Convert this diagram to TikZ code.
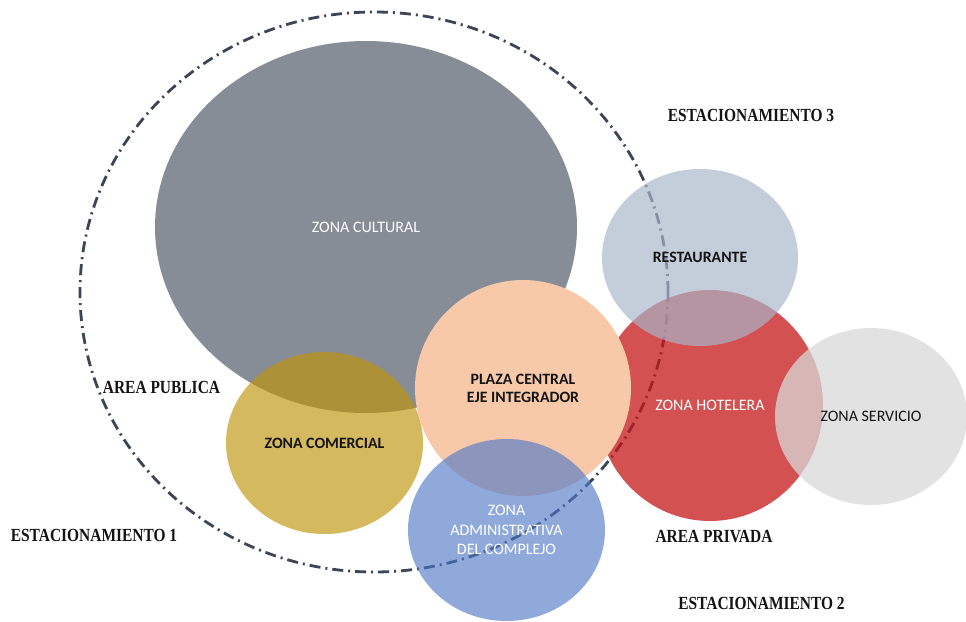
\documentclass[tikz,border=0pt]{standalone}
\usepackage{fontspec}
\setmainfont{Liberation Serif}
\newfontfamily\carlito{Carlito}
\usetikzlibrary{shapes.geometric}
\definecolor{navy}{RGB}{59,69,86}
\definecolor{cgray}{RGB}{135,141,150}
\definecolor{cgold}{RGB}{192,148,8}
\definecolor{cred}{RGB}{197,24,24}
\definecolor{cpeach}{RGB}{247,201,169}
\definecolor{cblue}{RGB}{78,119,198}
\definecolor{crest}{RGB}{169,182,201}
\definecolor{cserv}{RGB}{217,217,217}
\definecolor{ink}{RGB}{20,20,20}
\tikzset{
  zone/.style={ellipse, inner sep=0pt, draw=none, text opacity=1, align=center},
  sanslab/.style={font=\carlito\fontsize{16}{18}\selectfont},
  sansbold/.style={font=\carlito\bfseries\fontsize{15.8}{18}\selectfont},
  seriflab/.style={font=\bfseries\fontsize{18.5}{20}\selectfont, inner sep=0pt, xscale=0.835, text=ink},
  limitline/.style={ellipse, inner sep=0pt, draw=navy, line width=2.8pt,
     dash pattern=on 11pt off 5pt on 2pt off 5pt}
}
\begin{document}
\begin{tikzpicture}[x=1pt,y=-1pt]
\useasboundingbox (0,0) rectangle (966,621);
\fill[white] (0,0) rectangle (966,621);
% dash-dot boundary of the public area
\node[limitline, minimum width=588pt, minimum height=560pt] (publica) at (374,292) {};
% zones
\node[zone, fill=cgray, minimum width=422pt, minimum height=372pt, sanslab, text=white] (cultural) at (366,227) {ZONA CULTURAL};
\node[zone, fill=cgold, fill opacity=0.65, minimum width=197pt, minimum height=182pt, sansbold, text=ink] (comercial) at (324.5,443) {ZONA COMERCIAL};
\node[zone, fill=cred, fill opacity=0.75, minimum width=226pt, minimum height=231pt, sanslab, text=white] (hotel) at (710,405.5) {ZONA HOTELERA};
\node[zone, fill=cpeach, minimum width=216pt, minimum height=216pt, sansbold, text=ink] (plaza) at (523,388) {PLAZA CENTRAL\\EJE INTEGRADOR};
\node[zone, fill=cblue, fill opacity=0.63, minimum width=197pt, minimum height=182pt, font=\carlito\fontsize{16}{19.3}\selectfont, text=white] (admin) at (506.5,530) {ZONA\\ADMINISTRATIVA\\DEL COMPLEJO};
\node[zone, fill=crest, fill opacity=0.68, minimum width=196pt, minimum height=177pt, sansbold, text=ink] (rest) at (700,257.5) {RESTAURANTE};
\node[zone, fill=cserv, fill opacity=0.75, minimum width=192pt, minimum height=177pt, sanslab, text=ink] (serv) at (871,416.5) {ZONA SERVICIO};
% area and parking labels
\node[seriflab] (lpub) at (161.5,387) {AREA PUBLICA};
\node[seriflab] (lpriv) at (714,537) {AREA PRIVADA};
\node[seriflab] (est1) at (94,535.5) {ESTACIONAMIENTO 1};
\node[seriflab] (est2) at (761.5,603) {ESTACIONAMIENTO 2};
\node[seriflab] (est3) at (751,115) {ESTACIONAMIENTO 3};
\end{tikzpicture}
\end{document}
